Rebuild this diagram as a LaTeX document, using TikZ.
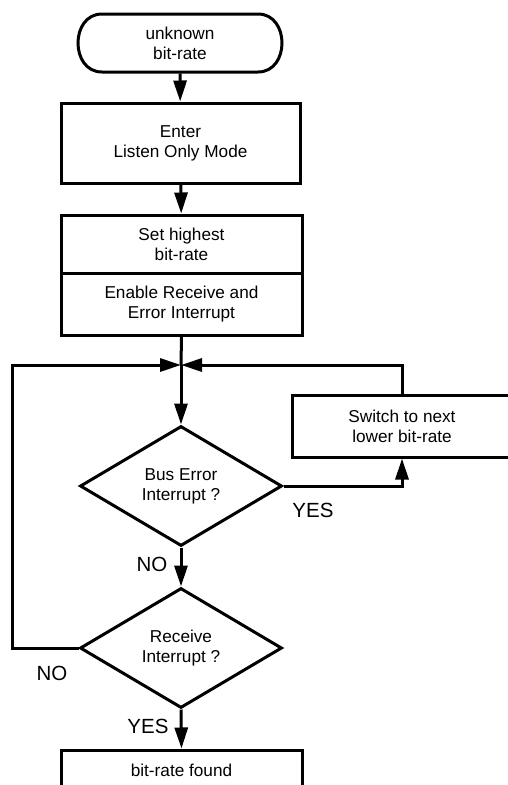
\documentclass[tikz,border=0pt]{standalone}
\usepackage{fontspec}
\setmainfont{Liberation Sans}
\usetikzlibrary{shapes.geometric,arrows.meta}

\tikzset{
  flow/.style={line width=3pt},
  arr/.style={flow,-{Triangle[length=21pt,width=13pt]}},
  boxtext/.style={font=\fontsize{17.2}{20}\selectfont, align=center},
  procbox/.style={draw, flow, rectangle, boxtext, inner sep=0pt},
  termbox/.style={rectangle, boxtext, inner sep=0pt, outer sep=0pt,
    minimum width=204pt, minimum height=58pt},
  decbox/.style={draw, flow, diamond, boxtext, inner sep=0pt, aspect=1.68,
    minimum width=202pt, minimum height=120pt},
  answer/.style={font=\fontsize{20.5}{24}\selectfont, inner sep=0pt},
}

\begin{document}
\begin{tikzpicture}[x=1pt, y=-1pt]
  \useasboundingbox (0,0) rectangle (508,785);

  % terminal with elliptical ends (half-ellipses as cubic curves)
  \node[termbox] (start) at (180,43) {unknown\\bit-rate};
  \draw[flow] ([xshift=24pt]start.north west) -- ([xshift=-24pt]start.north east)
    .. controls ([xshift=8pt]start.north east) and ([xshift=8pt]start.south east)
    .. ([xshift=-24pt]start.south east)
    -- ([xshift=24pt]start.south west)
    .. controls ([xshift=-8pt]start.south west) and ([xshift=-8pt]start.north west)
    .. ([xshift=24pt]start.north west) -- cycle;

  % process steps
  \node[procbox, minimum width=239pt, minimum height=80pt] (enter) at (180.5,143)
    {Enter\\Listen Only Mode};
  \node[procbox, minimum width=241pt, minimum height=58pt] (setrate) at (181.5,244)
    {Set highest\\bit-rate};
  \node[procbox, minimum width=241pt, minimum height=62pt] (enable) at (181.5,304)
    {Enable Receive and\\Error Interrupt};
  \coordinate (junc) at (181,365);
  \node[decbox] (buserr) at (181,486) {Bus Error\\Interrupt ?};
  \node[procbox, minimum width=220pt, minimum height=62pt] (lower) at (402,426)
    {Switch to next\\lower bit-rate};
  \node[decbox] (recv) at (181,648) {Receive\\Interrupt ?};
  \node[procbox, minimum width=241pt, minimum height=40pt] (found) at (181.5,770)
    {bit-rate found};
  \coordinate (lcorner) at (12,648);

  % connectors
  \draw[arr] ([yshift=-1.5pt]start.south) -- (enter);
  \draw[arr] (enter) -- (setrate);
  \draw[flow] (enable.south) -- (junc);
  \draw[arr] (junc) -- (buserr.north);
  \draw[arr] (buserr.east) -| (lower.south);
  \draw[arr] (lower.north) |- (junc);
  \draw[arr] (buserr.south) -- (recv.north);
  \draw[arr] (recv.west) -- (lcorner) |- (junc);
  \draw[arr] (recv.south) -- (found.north);

  % branch labels
  \node[answer] (yes1) at (313,510) {YES};
  \node[answer] (no1) at (152,564) {NO};
  \node[answer] (no2) at (52,673) {NO};
  \node[answer] (yes2) at (148,726) {YES};
\end{tikzpicture}
\end{document}
